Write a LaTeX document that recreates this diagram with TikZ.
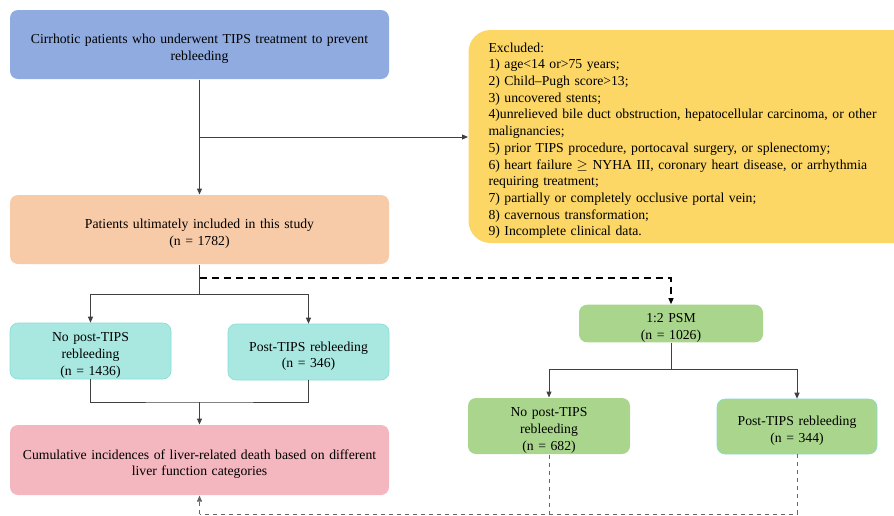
\documentclass[tikz,border=0pt]{standalone}
\usepackage{fontspec}
\setmainfont{Liberation Serif}
\usetikzlibrary{arrows.meta}
\definecolor{boxBlue}{HTML}{8FABE0}
\definecolor{boxOrange}{HTML}{F8CBA8}
\definecolor{boxYellow}{HTML}{FCD766}
\definecolor{boxCyan}{HTML}{A8E8E1}
\definecolor{edgeCyan}{HTML}{86DDD4}
\definecolor{boxPink}{HTML}{F4B6BF}
\definecolor{boxGreen}{HTML}{A9D68C}
\tikzstyle{flowchart}=[%
	every path/.style = {%
		line width=1pt
	},%
	box/.style={%
		rounded corners=8pt,
		draw=none,
		align=center,
		inner sep=0pt,
		font=\fontsize{13.7}{16.7}\selectfont,
		execute at begin node={\rule{0pt}{18pt}}
	},%
	link/.style={%
		draw=black!75,
		-{Triangle[length=6pt,width=5pt]}
	},%
	plain/.style={%
		draw=black!75
	},%
	psmlink/.style={%
		draw=black,
		line width=1.3pt,
		dash pattern=on 7pt off 5pt,
		-{Triangle[length=6pt,width=5pt]}
	},%
	backlink/.style={%
		draw=black!60,
		dash pattern=on 4pt off 4pt
	}
]

\begin{document}
\begin{tikzpicture}[
	x=1pt,
	y=-1pt,
	flowchart
]
	\useasboundingbox (0,0) rectangle (894,515);

	% left column
	\node[box, fill=boxBlue, text width=369pt, minimum width=379pt, minimum height=69pt] (start) at (199.5,44.5)
		{Cirrhotic patients who underwent TIPS treatment to prevent\\rebleeding};
	\node[box, fill=boxOrange, text width=369pt, minimum width=379pt, minimum height=69pt] (included) at (199.5,229.5)
		{Patients ultimately included in this study\\(n = 1782)};
	\node[box, fill=boxCyan, draw=edgeCyan, line width=0.6pt, text width=151pt, minimum width=161pt, minimum height=56pt] (noReb) at (90.5,351)
		{No post-TIPS\\rebleeding\\(n = 1436)};
	\node[box, fill=boxCyan, draw=edgeCyan, line width=0.6pt, text width=151pt, minimum width=161pt, minimum height=56pt] (reb) at (308.5,352)
		{Post-TIPS rebleeding\\(n = 346)};
	\node[box, fill=boxPink, text width=369pt, minimum width=379pt, minimum height=70pt] (outcome) at (199.5,460)
		{Cumulative incidences of liver-related death based on different\\liver function categories};

	% exclusions
	\node[box, fill=boxYellow, rounded corners=22pt, anchor=west, align=left,
		text width=415pt, inner xsep=20pt, minimum height=213pt] (excluded) at (468,136.5)
		{Excluded:\\
		1) age<14 or>75 years;\\
		2) Child--Pugh score>13;\\
		3) uncovered stents;\\
		4)unrelieved bile duct obstruction, hepatocellular carcinoma, or other\\
		malignancies;\\
		5) prior TIPS procedure, portocaval surgery, or splenectomy;\\
		6) heart failure $\geq$ NYHA III, coronary heart disease, or arrhythmia\\
		requiring treatment;\\
		7) partially or completely occlusive portal vein;\\
		8) cavernous transformation;\\
		9) Incomplete clinical data.};

	% matched cohort
	\node[box, fill=boxGreen, text width=174pt, minimum width=184pt, minimum height=37pt] (psm) at (671,323.5)
		{1:2 PSM\\(n = 1026)};
	\node[box, fill=boxGreen, text width=152pt, minimum width=162pt, minimum height=56pt] (psmNoReb) at (549,426)
		{No post-TIPS\\rebleeding\\(n = 682)};
	\node[box, fill=boxGreen, draw=edgeCyan, line width=0.6pt, text width=150pt, minimum width=160pt, minimum height=55pt] (psmReb) at (797,426.5)
		{Post-TIPS rebleeding\\(n = 344)};

	% connectors
	\coordinate (exclSplit) at (199.5,137);
	\draw[link] (start) -- (included);
	\draw[link] (exclSplit) -- (exclSplit -| excluded.west);

	\coordinate (groupSplit) at (199.5,294);
	\draw[plain] (included) -- (groupSplit);
	\draw[link] (groupSplit) -| (noReb.north);
	\draw[link] (groupSplit) -| (reb.north);

	\coordinate (psmSplit) at (199.5,278);
	\draw[psmlink] (psmSplit) -| (psm.north);

	\coordinate (groupJoin) at (199.5,402);
	\draw[plain] (noReb.south) |- (groupJoin) -| (reb.south);
	\draw[link] (groupJoin) -- (outcome);

	\coordinate (psmFork) at (671,369);
	\draw[plain] (psm) -- (psmFork);
	\draw[link] (psmFork) -| (psmNoReb.north);
	\draw[link] (psmFork) -| (psmReb.north);

	\coordinate (backJoin) at (199.5,514);
	\draw[backlink] (psmReb.south) |- (backJoin);
	\draw[backlink] (psmNoReb.south) -- (psmNoReb.south |- backJoin);
	\draw[backlink, -{Triangle[length=6pt,width=5pt]}] (backJoin) -- (outcome.south);
\end{tikzpicture}
\end{document}
